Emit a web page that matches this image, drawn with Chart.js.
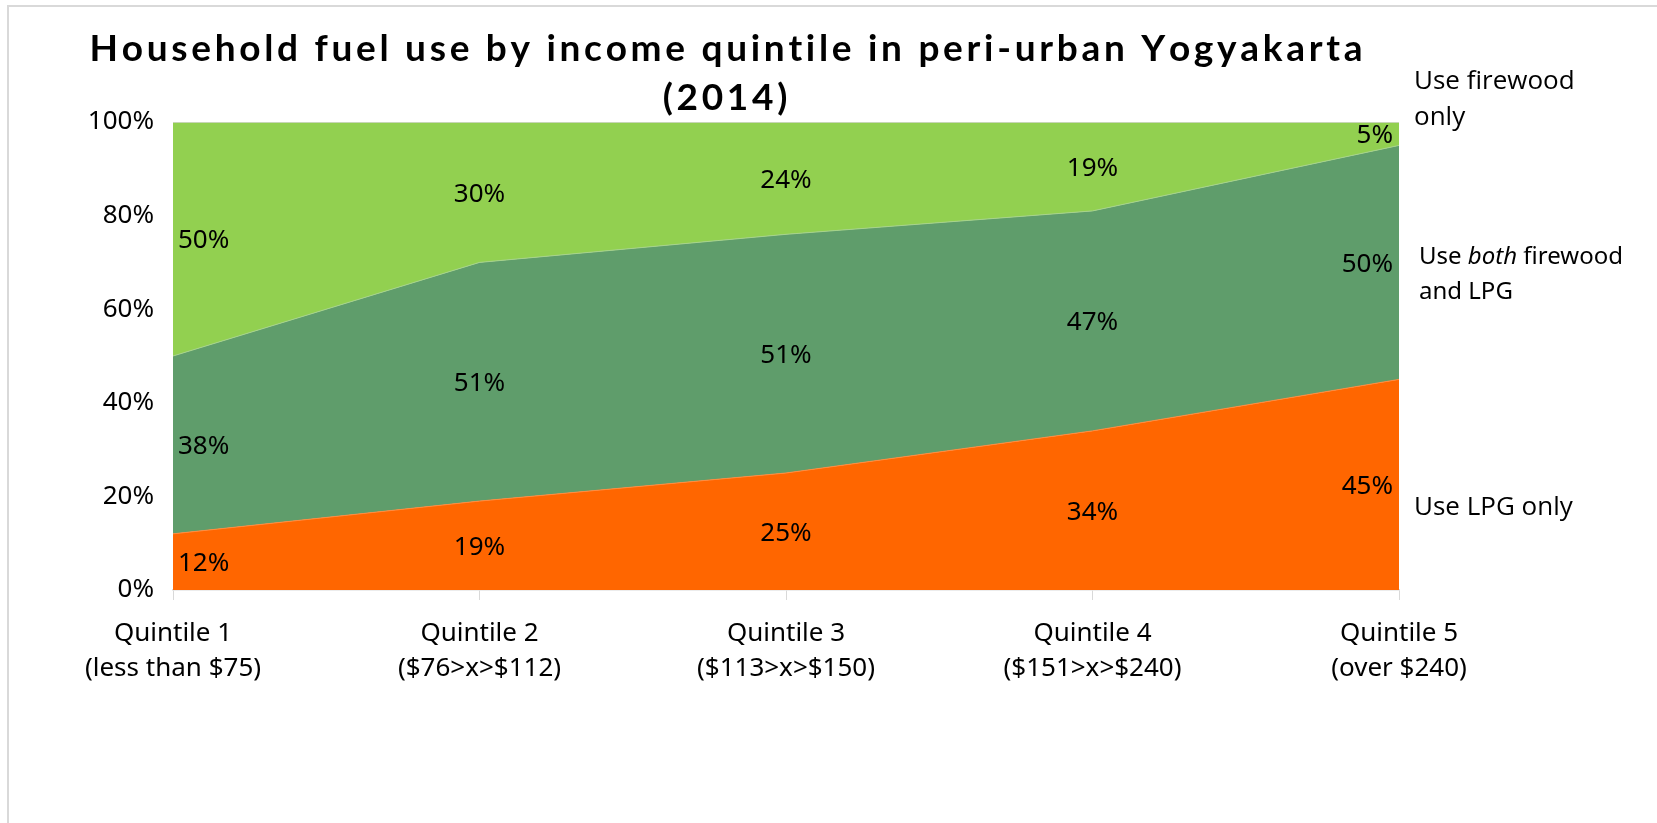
<!DOCTYPE html>
<html>
<head>
<meta charset="utf-8">
<script src="https://cdn.jsdelivr.net/npm/chart.js@4/dist/chart.umd.min.js"></script>
<style>
  html, body { margin: 0; padding: 0; background: #ffffff; }
  #wrap { position: relative; width: 1657px; height: 823px; }
</style>
</head>
<body>
<div id="wrap"><canvas id="c"></canvas></div>
<script>
// ---- data ----
const categories = [
  ["Quintile 1", "(less than $75)"],
  ["Quintile 2", "($76>x>$112)"],
  ["Quintile 3", "($113>x>$150)"],
  ["Quintile 4", "($151>x>$240)"],
  ["Quintile 5", "(over $240)"]
];
const lpgOnly      = [12, 19, 25, 34, 45];
const bothFuels    = [38, 51, 51, 47, 50];
const firewoodOnly = [50, 30, 24, 19, 5];
const seriesNames  = ["Use LPG only", "Use both firewood and LPG", "Use firewood only"];
const yTicks       = [0, 20, 40, 60, 80, 100];
const titleLines   = ["Household fuel use by income quintile in peri-urban Yogyakarta", "(2014)"];

const COLORS = { lpg: "#FF6600", both: "#5F9D6B", fire: "#92D050" };

// ---- plugins ----
const framePlugin = {
  id: "frame",
  beforeDraw(chart) {
    const ctx = chart.ctx;
    ctx.save();
    ctx.strokeStyle = "#d9d9d9";
    ctx.lineWidth = 2;
    ctx.beginPath();
    ctx.moveTo(8, 823);
    ctx.lineTo(8, 6);
    ctx.lineTo(1657, 6);
    ctx.stroke();
    ctx.restore();
  }
};

function drawSpaced(ctx, text, cx, y, targetWidth, fixedSpacing) {
  const chars = Array.from(text);
  const widths = chars.map(ch => ctx.measureText(ch).width);
  const raw = widths.reduce((a, b) => a + b, 0);
  const spacing = targetWidth ? (targetWidth - raw) / (chars.length - 1) : fixedSpacing;
  const total = raw + spacing * (chars.length - 1);
  let x = cx - total / 2;
  ctx.textAlign = "left";
  chars.forEach((ch, i) => {
    ctx.fillText(ch, x, y);
    x += widths[i] + spacing;
  });
  return spacing;
}

const titlePlugin = {
  id: "spacedTitle",
  afterDraw(chart) {
    const ctx = chart.ctx;
    ctx.save();
    ctx.fillStyle = "#000000";
    ctx.textBaseline = "alphabetic";
    ctx.font = "bold 37px Lato";
    const sp = drawSpaced(ctx, titleLines[0], 726, 61, 1273);
    drawSpaced(ctx, titleLines[1], 725, 110, null, sp);
    ctx.restore();
  }
};

const dataLabelPlugin = {
  id: "areaLabels",
  afterDatasetsDraw(chart) {
    const ctx = chart.ctx;
    const xs = chart.scales.x, ys = chart.scales.y;
    const n = categories.length;
    ctx.save();
    ctx.fillStyle = "#000000";
    ctx.font = "26px 'Noto Sans'";
    ctx.textBaseline = "middle";
    const stacks = [lpgOnly, bothFuels, firewoodOnly];
    for (let i = 0; i < n; i++) {
      let base = 0;
      stacks.forEach(arr => {
        const v = arr[i];
        const y = ys.getPixelForValue(base + v / 2);
        let x = xs.getPixelForValue(i);
        if (i === 0) { ctx.textAlign = "left"; x += 5; }
        else if (i === n - 1) { ctx.textAlign = "right"; x -= 6; }
        else { ctx.textAlign = "center"; }
        ctx.fillText(v + "%", x, y + 2);
        base += v;
      });
    }
    ctx.restore();
  }
};

const sideLabelPlugin = {
  id: "sideLabels",
  afterDraw(chart) {
    const ctx = chart.ctx;
    ctx.save();
    ctx.fillStyle = "#000000";
    ctx.textBaseline = "alphabetic";
    ctx.textAlign = "left";
    // Use firewood only
    ctx.font = "26px 'Open Sans'";
    ctx.fillText("Use firewood", 1414, 89);
    ctx.fillText("only", 1414, 125);
    // Use both firewood and LPG
    const fs = "24px 'Noto Sans'";
    ctx.font = fs;
    let x = 1419;
    ctx.fillText("Use ", x, 264);
    x += ctx.measureText("Use ").width;
    ctx.font = "italic " + fs;
    ctx.fillText("both", x, 264);
    x += ctx.measureText("both").width;
    ctx.font = fs;
    ctx.fillText(" firewood", x, 264);
    ctx.fillText("and LPG", 1419, 299);
    // Use LPG only
    ctx.font = "26px 'Open Sans'";
    ctx.fillText("Use LPG only", 1414, 515);
    ctx.restore();
  }
};

// ---- chart ----
new Chart(document.getElementById("c"), {
  type: "line",
  data: {
    labels: categories,
    datasets: [
      { label: seriesNames[0], data: lpgOnly, backgroundColor: COLORS.lpg, borderColor: "#FF8C40",
        borderWidth: 1, fill: "origin", pointRadius: 0, tension: 0 },
      { label: seriesNames[1], data: bothFuels, backgroundColor: COLORS.both, borderColor: "#A7D48A",
        borderWidth: 1, fill: "-1", pointRadius: 0, tension: 0 },
      { label: seriesNames[2], data: firewoodOnly, backgroundColor: COLORS.fire, borderColor: "#d9d9d9",
        borderWidth: 1.5, fill: "-1", pointRadius: 0, tension: 0 }
    ]
  },
  options: {
    responsive: true,
    maintainAspectRatio: false,
    animation: false,
    layout: { padding: { left: 20, right: 258, top: 122, bottom: 133 } },
    plugins: {
      legend: { display: false },
      title: { display: false },
      tooltip: { enabled: false }
    },
    scales: {
      x: {
        type: "category",
        offset: false,
        grid: { display: true, drawOnChartArea: false, drawTicks: true, tickLength: 10, color: "#d9d9d9" },
        border: { display: true, color: "#d9d9d9", width: 1.5 },
        ticks: { color: "#000000", font: { family: "Noto Sans", size: 26, lineHeight: 1.35 }, padding: 16,
                 maxRotation: 0, autoSkip: false },
        afterFit(scale) { scale.height = 100; }
      },
      y: {
        stacked: true,
        min: 0, max: 100,
        afterBuildTicks(scale) { scale.ticks = yTicks.map(v => ({ value: v })); },
        grid: { display: false },
        border: { display: false },
        ticks: { color: "#000000", font: { family: "Noto Sans", size: 26 }, padding: 11,
                 callback: v => v + "%" },
        afterFit(scale) { scale.width = 153; }
      }
    }
  },
  plugins: [framePlugin, titlePlugin, dataLabelPlugin, sideLabelPlugin]
});
</script>
</body>
</html>
